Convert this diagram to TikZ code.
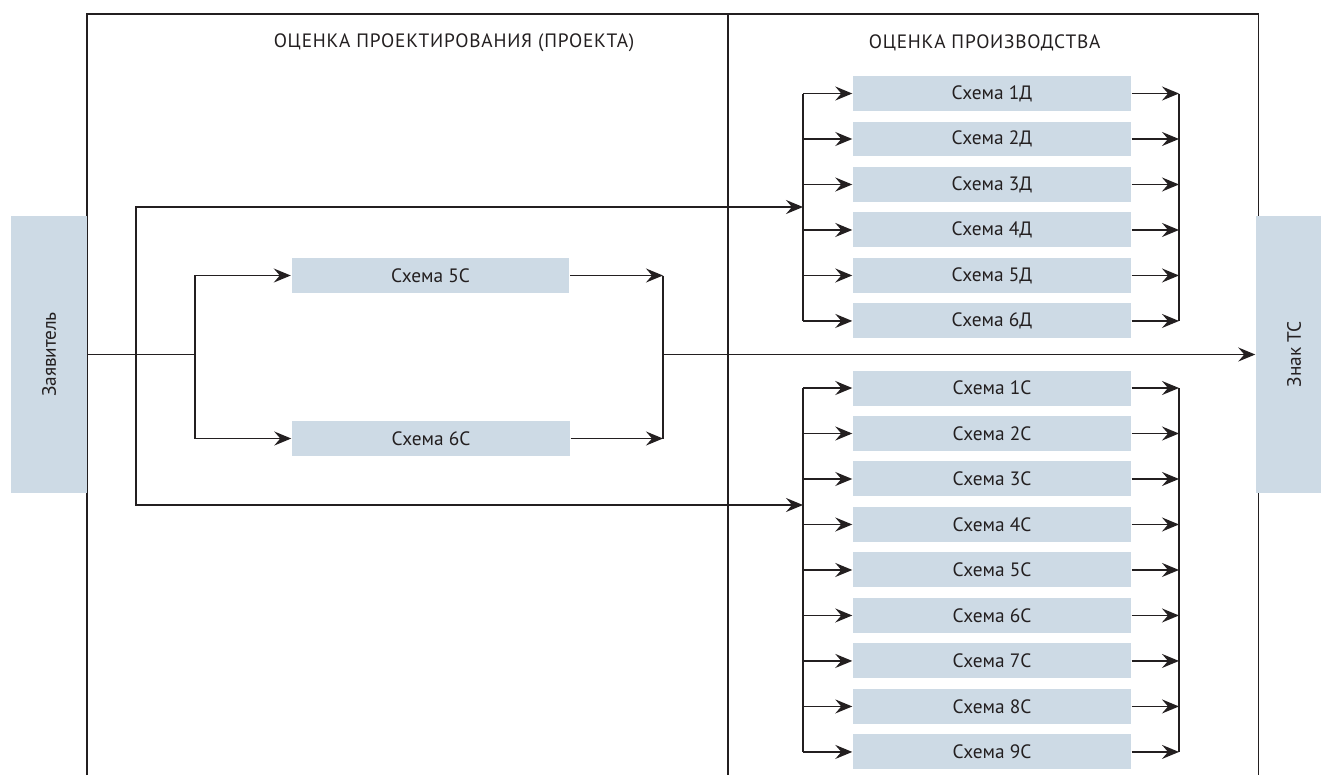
\documentclass[tikz,border=0pt]{standalone}
\usepackage{fontspec}
\setmainfont{PT Sans}
\usepackage{tikz}
\usetikzlibrary{arrows.meta, calc, positioning}
\definecolor{boxblue}{RGB}{205,218,229}
\definecolor{ink}{RGB}{35,31,32}
\tikzstyle{scheme} = [rectangle, fill=boxblue, text=ink, inner sep=0pt,
    minimum width=5.56cm, minimum height=0.7cm]
\tikzstyle{party} = [rectangle, fill=boxblue, text=ink, inner sep=0pt,
    minimum width=5.54cm, minimum height=1.52cm, rotate=90]
\tikzstyle{line} = [draw, -{Stealth[length=0.34cm, width=0.28cm, inset=0.12cm]}]
\begin{document}
\begin{tikzpicture}[x=0.02cm, y=0.02cm, node distance=0.91cm, color=ink,
    line width=0.85pt, font=\fontsize{11}{13}\selectfont,
    title/.style={anchor=west, inner sep=0pt,
        font=\fontsize{11}{13}\selectfont\addfontfeature{LetterSpace=4}}
    ]
    \useasboundingbox (0,0) rectangle (1321,-775);
    % Frame
    \draw (87,-775) -- (87,-14) -- (1258.5,-14) -- (1258.5,-775);
    \draw (728,-14) -- (728,-775);
    \node [title] (design) at (273,-43) {ОЦЕНКА ПРОЕКТИРОВАНИЯ (ПРОЕКТА)};
    \node [title] (production) at (868,-43) {ОЦЕНКА ПРОИЗВОДСТВА};

    % Nodes
    \node [party] (applicant) at (49,-354.5) {Заявитель};
    \node [party] (mark) at (1294,-354.5) {Знак ТС};
    \node [scheme] (s5) at (430.5,-275.5) {Схема 5С};
    \node [scheme] (s6) at (431,-438.5) {Схема 6С};

    % Production, Д
    \node [scheme] (d1) at (992,-93.5) {Схема 1Д};
    \node [scheme, below of=d1] (d2) {Схема 2Д};
    \node [scheme, below of=d2] (d3) {Схема 3Д};
    \node [scheme, below of=d3] (d4) {Схема 4Д};
    \node [scheme, below of=d4] (d5) {Схема 5Д};
    \node [scheme, below of=d5] (d6) {Схема 6Д};

    % Production, С
    \node [scheme] (c1) at (992,-388) {Схема 1С};
    \node [scheme, below of=c1] (c2) {Схема 2С};
    \node [scheme, below of=c2] (c3) {Схема 3С};
    \node [scheme, below of=c3] (c4) {Схема 4С};
    \node [scheme, below of=c4] (c5) {Схема 5С};
    \node [scheme, below of=c5] (c6) {Схема 6С};
    \node [scheme, below of=c6] (c7) {Схема 7С};
    \node [scheme, below of=c7] (c8) {Схема 8С};
    \node [scheme, below of=c8] (c9) {Схема 9С};

    % Junctions
    \coordinate (loop) at (136,-354.5);
    \coordinate (split) at (195,-354.5);
    \coordinate (merge) at (663,-354.5);
    \coordinate (dbus) at (803,-207);
    \coordinate (cbus) at (803,-505);
    \coordinate (out) at (1179,-354.5);

    % Edges
    \path [draw] (applicant) -- (split);
    \path [line] (split) |- (s5);
    \path [line] (split) |- (s6);
    \path [line] (loop) |- (dbus);
    \path [line] (loop) |- (cbus);
    \path [line] (s5) -- (s5 -| merge);
    \path [line] (s6) -- (s6 -| merge);
    \path [draw] (s5 -| merge) -- (s6 -| merge);
    \path [line] (merge) -- (mark);

    \path [draw] (d1 -| dbus) -- (d6 -| dbus);
    \path [line] (d1 -| dbus) -- (d1);
    \path [line] (d2 -| dbus) -- (d2);
    \path [line] (d3 -| dbus) -- (d3);
    \path [line] (d4 -| dbus) -- (d4);
    \path [line] (d5 -| dbus) -- (d5);
    \path [line] (d6 -| dbus) -- (d6);
    \path [line] (d1) -- (d1 -| out);
    \path [line] (d2) -- (d2 -| out);
    \path [line] (d3) -- (d3 -| out);
    \path [line] (d4) -- (d4 -| out);
    \path [line] (d5) -- (d5 -| out);
    \path [line] (d6) -- (d6 -| out);
    \path [draw] (d1 -| out) -- (d6 -| out);

    \path [draw] (c1 -| cbus) -- (c9 -| cbus);
    \path [line] (c1 -| cbus) -- (c1);
    \path [line] (c2 -| cbus) -- (c2);
    \path [line] (c3 -| cbus) -- (c3);
    \path [line] (c4 -| cbus) -- (c4);
    \path [line] (c5 -| cbus) -- (c5);
    \path [line] (c6 -| cbus) -- (c6);
    \path [line] (c7 -| cbus) -- (c7);
    \path [line] (c8 -| cbus) -- (c8);
    \path [line] (c9 -| cbus) -- (c9);
    \path [line] (c1) -- (c1 -| out);
    \path [line] (c2) -- (c2 -| out);
    \path [line] (c3) -- (c3 -| out);
    \path [line] (c4) -- (c4 -| out);
    \path [line] (c5) -- (c5 -| out);
    \path [line] (c6) -- (c6 -| out);
    \path [line] (c7) -- (c7 -| out);
    \path [line] (c8) -- (c8 -| out);
    \path [line] (c9) -- (c9 -| out);
    \path [draw] (c1 -| out) -- (c9 -| out);
\end{tikzpicture}
\end{document}
